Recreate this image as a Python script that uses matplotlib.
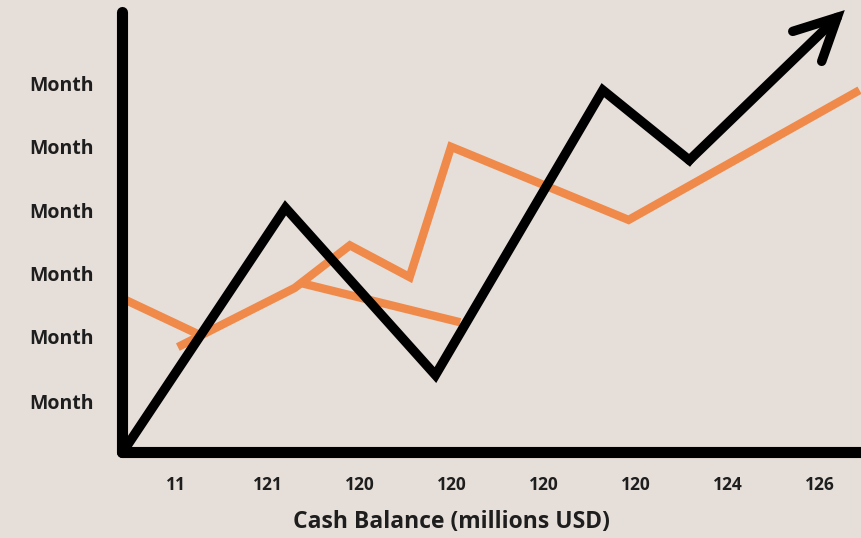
import matplotlib.pyplot as plt

# tick labels
x_labels = ['11', '121', '120', '120', '120', '120', '124', '126']
y_labels = ['Month'] * 6
y_ticks = [0.8, 1.81, 2.81, 3.8, 4.81, 5.8]

# black series (ends in an arrow)
black_x = [-0.55, 1.19, 2.82, 4.64, 5.58, 7.27]
black_y = [0.06, 3.84, 1.21, 5.69, 4.59, 6.95]

# orange series, drawn as three pieces
orange_a_x = [-0.59, 0.26]
orange_a_y = [2.42, 1.84]
orange_b_x = [0.02, 1.29, 1.89, 2.54, 2.99, 4.92, 7.43]
orange_b_y = [1.65, 2.58, 3.25, 2.75, 4.80, 3.65, 5.69]
orange_c_x = [1.35, 3.09]
orange_c_y = [2.66, 2.04]

bg = '#e6dfd9'
orange = '#f08a4b'
txt = '#1e1e1e'

plt.rcParams['font.family'] = ['Open Sans', 'DejaVu Sans']

fig = plt.figure(figsize=(8.62, 5.38), dpi=100, facecolor=bg)
ax = fig.add_axes([122 / 862, 86 / 538, 740 / 862, 440 / 538])
ax.set_facecolor(bg)

for xs, ys in [(orange_a_x, orange_a_y), (orange_b_x, orange_b_y), (orange_c_x, orange_c_y)]:
    ax.plot(xs, ys, color=orange, lw=6, solid_capstyle='butt', solid_joinstyle='miter', clip_on=False)

ax.plot(black_x[:-1], black_y[:-1], color='black', lw=6.8, solid_joinstyle='miter', clip_on=False)
ax.annotate('', xy=(black_x[-1], black_y[-1]), xytext=(black_x[-2], black_y[-2]),
            arrowprops=dict(arrowstyle='->,head_length=3.0,head_width=1.5', color='black', lw=6.8,
                            shrinkA=0, shrinkB=0, joinstyle='miter', capstyle='round'),
            annotation_clip=False)

ax.set_xlim(-0.587, 7.457)
ax.set_ylim(0, 6.92)

for s in ['top', 'right']:
    ax.spines[s].set_visible(False)
for s in ['left', 'bottom']:
    ax.spines[s].set_linewidth(8)
    ax.spines[s].set_color('black')
    ax.spines[s].set_capstyle('round')

ax.set_xticks(range(len(x_labels)))
ax.set_xticklabels(x_labels, fontsize=12.5, fontweight='bold', color=txt)
ax.set_yticks(y_ticks)
ax.set_yticklabels(y_labels, fontsize=14, fontweight='bold', color=txt)
ax.tick_params(axis='x', length=0, pad=17)
ax.tick_params(axis='y', length=0, pad=20)
fig.text(451 / 862, 1 - 522 / 538, 'Cash Balance (millions USD)', fontsize=16.5, fontweight='bold',
         color=txt, ha='center', va='center')

fig.savefig('out.png', dpi=100, facecolor=bg)
